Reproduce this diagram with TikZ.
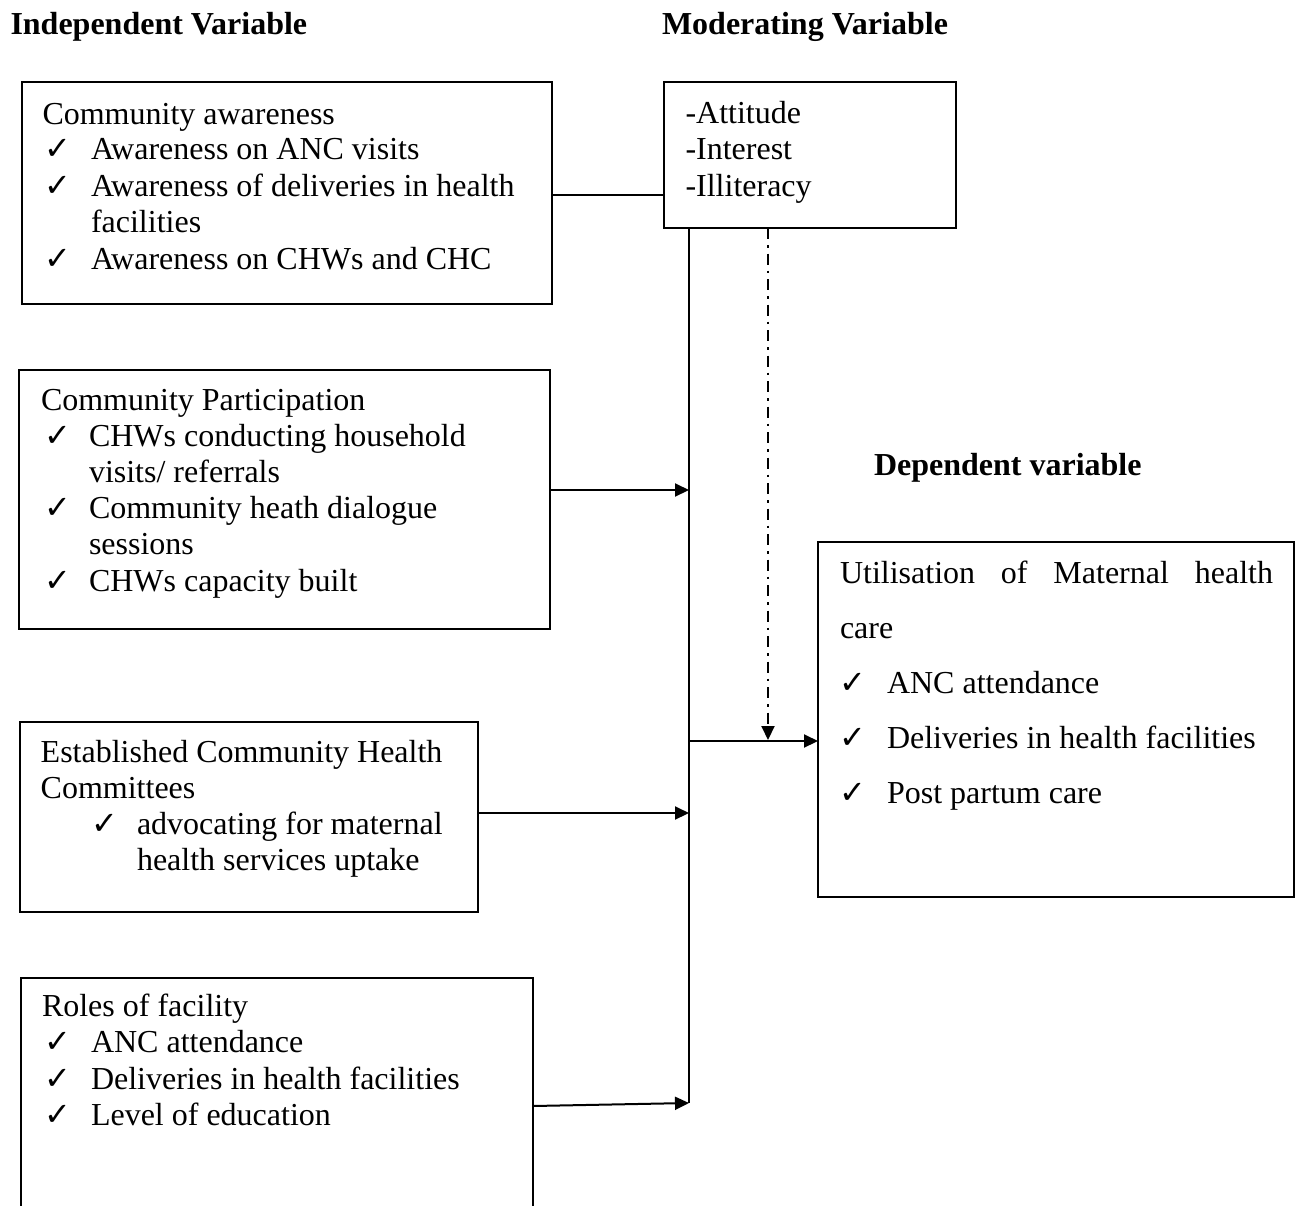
\documentclass[tikz,border=0pt]{standalone}
\usepackage{fontspec}
\setmainfont{Liberation Serif}
\newfontfamily\symf{DejaVu Sans}
\usetikzlibrary{arrows.meta}
\newcommand\fs{\fontsize{32}{36}\selectfont}
\newcommand\ckmark{{\symf\fontsize{32}{32}\selectfont ✓}}
\tikzset{
  boxn/.style={draw, line width=2pt, inner sep=0pt, outer sep=0pt, anchor=north west},
  txt/.style={inner sep=0pt, outer sep=0pt, anchor=base west, font=\fs},
  hd/.style={txt, font=\fs\bfseries},
  ckn/.style={inner sep=0pt, outer sep=0pt, anchor=base west},
  conn/.style={line width=2pt},
  arr/.style={line width=2pt, -{Triangle[length=14pt,width=13pt]}},
  dashdotline/.style={line width=2pt, dash pattern=on 11pt off 6pt on 2.5pt off 6pt, -{Triangle[length=14pt,width=13pt]}}
}
\begin{document}
\begin{tikzpicture}[x=1pt,y=-1pt]
\path[use as bounding box] (0,0) rectangle (1303,1205);
\clip (0,0) rectangle (1303,1205);

% headings
\node[hd] (hIV) at (10.5,34.5) {Independent Variable};
\node[hd] (hMV) at (662,34.5) {Moderating Variable};
\node[hd] (hDV) at (874,475.5) {Dependent variable};

% boxes
\node[boxn, minimum width=530pt, minimum height=222pt] (b1) at (22,82) {};
\node[boxn, minimum width=292pt, minimum height=146pt] (mod) at (664,82) {};
\node[boxn, minimum width=531pt, minimum height=259pt] (b2) at (19,370) {};
\node[boxn, minimum width=458pt, minimum height=190pt] (b3) at (20,722) {};
\node[boxn, minimum width=512pt, minimum height=240pt] (b4) at (21,978) {};
\node[boxn, minimum width=476pt, minimum height=355pt] (dep) at (818,542) {};

% box 1 text
\node[txt] (t1a) at (42.5,124) {Community awareness};
\node[ckn] (c1b) at (44,159.5) {\ckmark};
\node[txt] (t1b) at (91,159.5) {Awareness on ANC visits};
\node[ckn] (c1c) at (44,196) {\ckmark};
\node[txt] (t1c) at (91,196) {Awareness of deliveries in health};
\node[txt] (t1d) at (91,232.5) {facilities};
\node[ckn] (c1e) at (44,269) {\ckmark};
\node[txt] (t1e) at (91,269) {Awareness on CHWs and CHC};

% moderating text
\node[txt] (m1) at (685.5,123.5) {-Attitude};
\node[txt] (m2) at (685.5,159.5) {-Interest};
\node[txt] (m3) at (685.5,196) {-Illiteracy};

% box 2 text
\node[txt] (t2a) at (41,410.5) {Community Participation};
\node[ckn] (c2b) at (44,446.5) {\ckmark};
\node[txt] (t2b) at (89,446.5) {CHWs conducting household};
\node[txt] (t2c) at (89,482.5) {visits/ referrals};
\node[ckn] (c2d) at (44,518.5) {\ckmark};
\node[txt] (t2d) at (89,518.5) {Community heath dialogue};
\node[txt] (t2e) at (89,554.5) {sessions};
\node[ckn] (c2f) at (44,591) {\ckmark};
\node[txt] (t2f) at (89,591) {CHWs capacity built};

% box 3 text
\node[txt] (t3a) at (40.7,762) {Established Community Health};
\node[txt] (t3b) at (40.7,798) {Committees};
\node[ckn] (c3c) at (91,834) {\ckmark};
\node[txt] (t3c) at (137,834) {advocating for maternal};
\node[txt] (t3d) at (137,870) {health services uptake};

% box 4 text
\node[txt] (t4a) at (42,1016) {Roles of facility};
\node[ckn] (c4b) at (44,1052.5) {\ckmark};
\node[txt] (t4b) at (91,1052.5) {ANC attendance};
\node[ckn] (c4c) at (44,1089) {\ckmark};
\node[txt] (t4c) at (91,1089) {Deliveries in health facilities};
\node[ckn] (c4d) at (44,1125.5) {\ckmark};
\node[txt] (t4d) at (91,1125.5) {Level of education};

% dependent text
\node[txt] (d1) at (840,583.5) {\hbox to 433pt{Utilisation\hfill of\hfill Maternal\hfill health}};
\node[txt] (d2) at (840,638.5) {care};
\node[ckn] (cd3) at (839,693.5) {\ckmark};
\node[txt] (d3) at (887,693.5) {ANC attendance};
\node[ckn] (cd4) at (839,748.5) {\ckmark};
\node[txt] (d4) at (887,748.5) {Deliveries in health facilities};
\node[ckn] (cd5) at (839,803.5) {\ckmark};
\node[txt] (d5) at (887,803.5) {Post partum care};

% junction coordinates
\coordinate (y1) at (600,195);
\coordinate (j2) at (689,490);
\coordinate (j3) at (689,813);
\coordinate (j4) at (689,1103);
\coordinate (jm) at (689,741);
\coordinate (dd) at (768,741);

% connectors
\draw[conn] (b1.east |- y1) -- (mod.west |- y1);
\draw[conn] (mod.south -| jm) -- (j4);
\draw[arr] (b2.east |- j2) -- (j2);
\draw[arr] (b3.east |- j3) -- (j3);
\draw[arr] ([yshift=-3pt]b4.east |- j4) -- (j4);
\draw[arr] (jm) -- (dep.west |- jm);
\draw[dashdotline] (mod.south -| dd) -- ([yshift=1pt]dd);
\end{tikzpicture}
\end{document}
